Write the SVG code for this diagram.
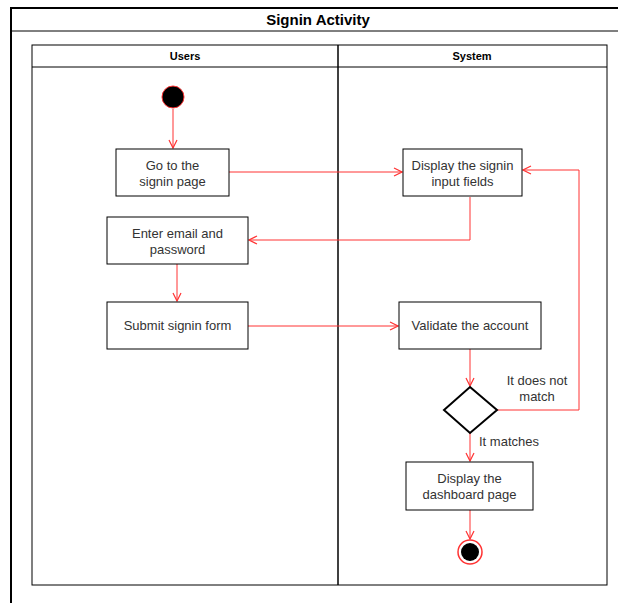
<svg xmlns="http://www.w3.org/2000/svg" width="618" height="603" viewBox="0 0 618 603">
<style>
.t{font-family:"Liberation Sans",Arial,sans-serif;font-size:13px;fill:#333;text-anchor:middle}
.h{font-family:"Liberation Sans",Arial,sans-serif;font-size:11px;font-weight:bold;fill:#000;text-anchor:middle}
.box{fill:#fff;stroke:#000;stroke-width:1}
.c{fill:none;stroke:#ff3333;stroke-width:1}
</style>
<defs>
<marker id="a" viewBox="0 0 10 10" refX="9" refY="5" markerWidth="10" markerHeight="10" markerUnits="userSpaceOnUse" orient="auto">
<path d="M1,1 L9,5 L1,9" fill="none" stroke="#ff3333" stroke-width="1.2"/>
</marker>
</defs>
<rect width="618" height="603" fill="#fff"/>
<g id="frame">
<path d="M11,603 L11,8 L618,8" fill="none" stroke="#000" stroke-width="2"/>
<line x1="11" y1="31" x2="618" y2="31" stroke="#000" stroke-width="1"/>
<text x="318" y="25" font-family="Liberation Sans,Arial,sans-serif" font-size="15" font-weight="bold" text-anchor="middle" fill="#000">Signin Activity</text>
</g>
<g id="pool">
<rect x="32" y="45" width="575" height="540" fill="none" stroke="#000" stroke-width="1"/>
<line x1="32" y1="67" x2="607" y2="67" stroke="#000"/>
<line x1="338" y1="45" x2="338" y2="585" stroke="#000" stroke-width="1.5"/>
<text class="h" x="185" y="60">Users</text>
<text class="h" x="472" y="60">System</text>
</g>
<g id="connectors">
<line class="c" x1="173" y1="109" x2="173" y2="148" marker-end="url(#a)"/>
<line class="c" x1="229" y1="172" x2="402" y2="172" marker-end="url(#a)"/>
<polyline class="c" points="470,197 470,240 249,240" marker-end="url(#a)"/>
<line class="c" x1="177" y1="264" x2="177" y2="301" marker-end="url(#a)"/>
<line class="c" x1="248" y1="326" x2="398" y2="326" marker-end="url(#a)"/>
<line class="c" x1="470" y1="349" x2="470" y2="386" marker-end="url(#a)"/>
<polyline class="c" points="497,410 579,410 579,170 523,170" marker-end="url(#a)"/>
<line class="c" x1="470" y1="432" x2="470" y2="461" marker-end="url(#a)"/>
<line class="c" x1="470" y1="510" x2="470" y2="539" marker-end="url(#a)"/>
<text class="t" x="537" y="385">It does not</text>
<text class="t" x="537" y="401">match</text>
<text class="t" x="479" y="446" style="text-anchor:start">It matches</text>
</g>
<g id="start">
<circle cx="173" cy="97" r="11" fill="#000" stroke="#ff3333" stroke-width="1"/>
</g>
<g id="goto">
<rect class="box" x="116" y="149" width="113" height="47"/>
<text class="t" x="172.5" y="170">Go to the</text>
<text class="t" x="172.5" y="186">signin page</text>
</g>
<g id="enter">
<rect class="box" x="107" y="217" width="141" height="47"/>
<text class="t" x="177.5" y="238">Enter email and</text>
<text class="t" x="177.5" y="254">password</text>
</g>
<g id="submit">
<rect class="box" x="107" y="302" width="141" height="47"/>
<text class="t" x="177.5" y="330">Submit signin form</text>
</g>
<g id="display">
<rect class="box" x="403" y="149" width="119" height="47"/>
<text class="t" x="462.5" y="170">Display the signin</text>
<text class="t" x="462.5" y="186">input fields</text>
</g>
<g id="validate">
<rect class="box" x="399" y="302" width="142" height="47"/>
<text class="t" x="470" y="330">Validate the account</text>
</g>
<g id="decision">
<polygon points="470,387 497,410 470,433 444,410" fill="#fff" stroke="#000" stroke-width="2"/>
</g>
<g id="dashboard">
<rect class="box" x="406" y="462" width="127" height="48"/>
<text class="t" x="469.5" y="483">Display the</text>
<text class="t" x="469.5" y="499">dashboard page</text>
</g>
<g id="end">
<circle cx="470" cy="552" r="12" fill="#fff" stroke="#ff3333" stroke-width="1.5"/>
<circle cx="470" cy="552" r="9" fill="#000"/>
</g>
</svg>
